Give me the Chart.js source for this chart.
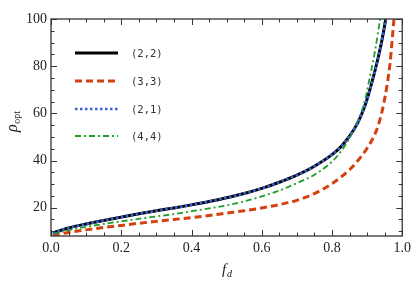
<!DOCTYPE html>
<html>
<head>
<meta charset="utf-8">
<script src="https://cdn.jsdelivr.net/npm/chart.js@4"></script>
<style>html,body{margin:0;padding:0;background:#fff}</style>
</head>
<body>
<canvas id="chart" width="415" height="281"></canvas>
<script>
// data
const fd22 = [0.005, 0.05, 0.1, 0.15, 0.2, 0.25, 0.3, 0.35, 0.4, 0.45, 0.5, 0.55, 0.6, 0.65, 0.7, 0.75, 0.8, 0.825, 0.85, 0.875, 0.894, 0.913, 0.932, 0.946, 0.954];
const rho22 = [9.3, 11.4, 13.1, 14.6, 16.0, 17.4, 18.7, 19.9, 21.2, 22.6, 24.2, 26.0, 28.2, 30.8, 33.8, 37.6, 42.5, 45.8, 50.3, 56.5, 63.3, 72.8, 84, 94, 101];
const fd21 = fd22;
const rho21 = [9.3, 11.4, 13.1, 14.6, 16.0, 17.4, 18.7, 19.9, 21.2, 22.6, 24.2, 26.0, 28.2, 30.8, 33.8, 37.6, 42.5, 45.8, 50.3, 56.5, 63.3, 72.8, 84, 94, 101];
const fd33 = [0.005, 0.05, 0.1, 0.15, 0.2, 0.25, 0.3, 0.35, 0.4, 0.45, 0.5, 0.55, 0.6, 0.65, 0.7, 0.75, 0.8, 0.85, 0.875, 0.9, 0.92, 0.935, 0.951, 0.965, 0.977];
const rho33 = [8.4, 9.5, 10.6, 11.6, 12.5, 13.4, 14.2, 15.0, 15.8, 16.7, 17.7, 18.7, 19.9, 21.3, 23.1, 26.0, 30.2, 36.1, 40.2, 45.2, 50.5, 56.5, 67, 81, 101];
const fd44 = [0.005, 0.05, 0.1, 0.15, 0.2, 0.25, 0.3, 0.35, 0.4, 0.45, 0.5, 0.55, 0.6, 0.65, 0.7, 0.75, 0.79, 0.82, 0.847, 0.875, 0.894, 0.908, 0.923, 0.938];
const rho44 = [8.9, 10.5, 11.9, 13.1, 14.2, 15.3, 16.3, 17.3, 18.5, 19.7, 21.0, 22.7, 24.8, 27.3, 30.4, 34.0, 38.2, 42.8, 48.8, 57.2, 65.7, 75.6, 86.9, 101];

const seriesLabels = ["(2,2)", "(3,3)", "(2,1)", "(4,4)"];
const xTicks = [0, 0.2, 0.4, 0.6, 0.8, 1.0];
const yTicks = [20, 40, 60, 80, 100];

function pts(xs, ys) {
    return xs.map(function (x, i) { return {x: x, y: ys[i]}; });
}

const frameColor = "#333";

// inward ticks on all four sides, frame, legend and axis titles
const framePlugin = {
    id: "frame",
    afterDraw: function (chart) {
        const ctx = chart.ctx;
        const a = chart.chartArea;
        const xs = chart.scales.x, ys = chart.scales.y;
        ctx.save();
        ctx.strokeStyle = frameColor;
        ctx.lineWidth = 1.3;
        ctx.strokeRect(a.left, a.top, a.right - a.left, a.bottom - a.top);
        ctx.lineWidth = 1;
        ctx.beginPath();
        for (let v = 0; v <= 1.0001; v += 0.05) {
            const px = Math.round(xs.getPixelForValue(v)) + 0.5;
            const major = Math.abs(v / 0.2 - Math.round(v / 0.2)) < 0.01;
            const len = major ? 6 : 3.5;
            ctx.moveTo(px, a.bottom); ctx.lineTo(px, a.bottom - len);
            ctx.moveTo(px, a.top); ctx.lineTo(px, a.top + len);
        }
        for (let v = 10; v <= 100; v += 5) {
            const py = Math.round(ys.getPixelForValue(v)) + 0.5;
            const major = v % 20 === 0;
            const len = major ? 6 : 3.5;
            ctx.moveTo(a.left, py); ctx.lineTo(a.left + len, py);
            ctx.moveTo(a.right, py); ctx.lineTo(a.right - len, py);
        }
        ctx.stroke();

        // legend inside the plot
        const rowY = [53, 81, 109, 136];
        chart.data.datasets.forEach(function (ds, i) {
            ctx.strokeStyle = ds.borderColor;
            ctx.lineWidth = ds.borderWidth;
            ctx.setLineDash(ds.borderDash || []);
            ctx.beginPath();
            ctx.moveTo(75, rowY[i]);
            ctx.lineTo(118, rowY[i]);
            ctx.stroke();
            ctx.setLineDash([]);
            ctx.fillStyle = "#333";
            ctx.font = "10.5px 'DejaVu Sans Mono'";
            ctx.textBaseline = "middle";
            ctx.fillText(ds.label, 131, rowY[i] + 1);
        });

        // axis titles with subscripts
        ctx.fillStyle = "#222";
        ctx.textBaseline = "alphabetic";
        ctx.font = "italic 15px 'Liberation Serif'";
        ctx.fillText("f", 222, 274);
        ctx.font = "italic 10px 'Liberation Serif'";
        ctx.fillText("d", 227, 277);

        ctx.translate(17, 132);
        ctx.rotate(-Math.PI / 2);
        ctx.font = "italic 16px 'Liberation Serif'";
        ctx.fillText("\u03c1", 0, 0);
        const w = ctx.measureText("\u03c1").width;
        ctx.font = "10px 'Liberation Serif'";
        ctx.fillText("opt", w + 0.5, 3);
        ctx.restore();
    }
};

new Chart(document.getElementById("chart"), {
    type: "line",
    data: {
        datasets: [
            {label: seriesLabels[0], data: pts(fd22, rho22), borderColor: "#000000", borderWidth: 3, order: 3},
            {label: seriesLabels[1], data: pts(fd33, rho33), borderColor: "#d4400f", borderWidth: 3, borderDash: [7, 4], order: 2},
            {label: seriesLabels[2], data: pts(fd21, rho21), borderColor: "#3a63d8", borderWidth: 2.6, borderDash: [2.5, 2.5], order: 0},
            {label: seriesLabels[3], data: pts(fd44, rho44), borderColor: "#1f9e2a", borderWidth: 1.8, borderDash: [6, 3, 2, 3], order: 1}
        ]
    },
    options: {
        responsive: false,
        animation: false,
        cubicInterpolationMode: "monotone",
        elements: {point: {radius: 0}},
        layout: {padding: {top: 19, right: 11, left: 0, bottom: 0}},
        plugins: {legend: {display: false}, tooltip: {enabled: false}},
        scales: {
            x: {
                type: "linear", min: 0, max: 1,
                grid: {display: false, drawTicks: false},
                border: {display: false},
                afterBuildTicks: function (s) { s.ticks = xTicks.map(function (v) { return {value: v}; }); },
                afterFit: function (s) { s.height = 45; },
                ticks: {
                    padding: 4, color: "#222", maxRotation: 0,
                    font: {family: "Liberation Serif", size: 14},
                    callback: function (v) { return v.toFixed(1); }
                }
            },
            y: {
                min: 8, max: 100,
                grid: {display: false, drawTicks: false},
                border: {display: false},
                afterBuildTicks: function (s) { s.ticks = yTicks.map(function (v) { return {value: v}; }); },
                afterFit: function (s) { s.width = 51; },
                ticks: {
                    padding: 4, color: "#222",
                    font: {family: "Liberation Serif", size: 14}
                }
            }
        }
    },
    plugins: [framePlugin]
});
</script>
</body>
</html>
